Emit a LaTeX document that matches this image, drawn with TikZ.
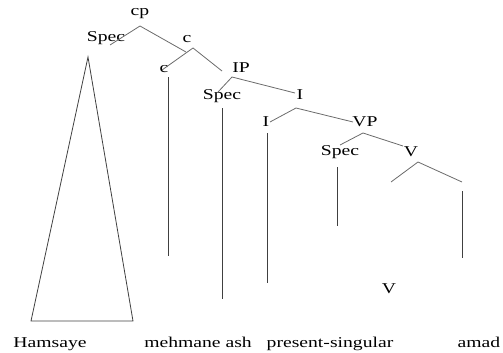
\documentclass[tikz,border=0pt]{standalone}
\usepackage{fontspec}
\setmainfont{Liberation Serif}[FakeStretch=1.31]
\begin{document}
\begin{tikzpicture}[x=1pt,y=-1pt,
  lbl/.style={anchor=base,inner sep=0pt,font=\fontsize{15}{17}\selectfont},
  branch/.style={draw=black!58,line width=0.8pt},
  stem/.style={draw=black!75,line width=0.8pt}]
\useasboundingbox (0,0) rectangle (503,353);
% labels
\node[lbl] (cp) at (140,16) {cp};
\node[lbl] (specA) at (106,42) {Spec};
\node[lbl] (cA) at (187,43) {c};
\node[lbl] (cB) at (164,72) {c};
\node[lbl] (ip) at (241,72) {IP};
\node[lbl] (specB) at (222,99) {Spec};
\node[lbl] (iA) at (300,99) {I};
\node[lbl] (iB) at (266,126) {I};
\node[lbl] (vp) at (365,126) {VP};
\node[lbl] (specC) at (340,155) {Spec};
\node[lbl] (vA) at (411,156) {V};
\node[lbl] (vB) at (389,293) {V};
\node[lbl] (w1) at (50,347) {Hamsaye};
\node[lbl] (w2) at (198,347) {mehmane ash};
\node[lbl] (w3) at (330,347) {present-singular};
\node[lbl] (w4) at (479,347) {amad};
% branch points
\coordinate (cpD) at (140,26);
\coordinate (cpL) at (110,45);
\coordinate (cpR) at (186,52);
\coordinate (cD) at (193,48);
\coordinate (cL) at (162,70);
\coordinate (cR) at (222,71);
\coordinate (ipD) at (232,77);
\coordinate (ipL) at (218,92);
\coordinate (ipR) at (295,93);
\coordinate (iD) at (296,108);
\coordinate (iL) at (270,122);
\coordinate (iR) at (353,122);
\coordinate (vpD) at (363,133);
\coordinate (vpL) at (340,145);
\coordinate (vpR) at (403,146);
\coordinate (hatL) at (391,182);
\coordinate (hatT) at (418,162);
\coordinate (hatR) at (462,182);
% stems
\coordinate (s1t) at (168,77);  \coordinate (s1b) at (168,256);
\coordinate (s2t) at (222,108); \coordinate (s2b) at (222,299);
\coordinate (s3t) at (267,133); \coordinate (s3b) at (267,283);
\coordinate (s4t) at (337,167); \coordinate (s4b) at (337,226);
\coordinate (s5t) at (462,191); \coordinate (s5b) at (462,258);
% triangle
\coordinate (tA) at (88,57);
\coordinate (tL) at (31,321);
\coordinate (tR) at (133,321);
\draw[branch] (cpL) -- (cpD) -- (cpR);
\draw[branch] (cL) -- (cD) -- (cR);
\draw[branch] (ipL) -- (ipD) -- (ipR);
\draw[branch] (iL) -- (iD) -- (iR);
\draw[branch] (vpL) -- (vpD) -- (vpR);
\draw[branch] (hatL) -- (hatT) -- (hatR);
\draw[stem] (s1t) -- (s1b);
\draw[stem] (s2t) -- (s2b);
\draw[stem] (s3t) -- (s3b);
\draw[stem] (s4t) -- (s4b);
\draw[stem] (s5t) -- (s5b);
\draw[stem,line join=miter] (tA) -- (tL) -- (tR) -- cycle;
\end{tikzpicture}
\end{document}
